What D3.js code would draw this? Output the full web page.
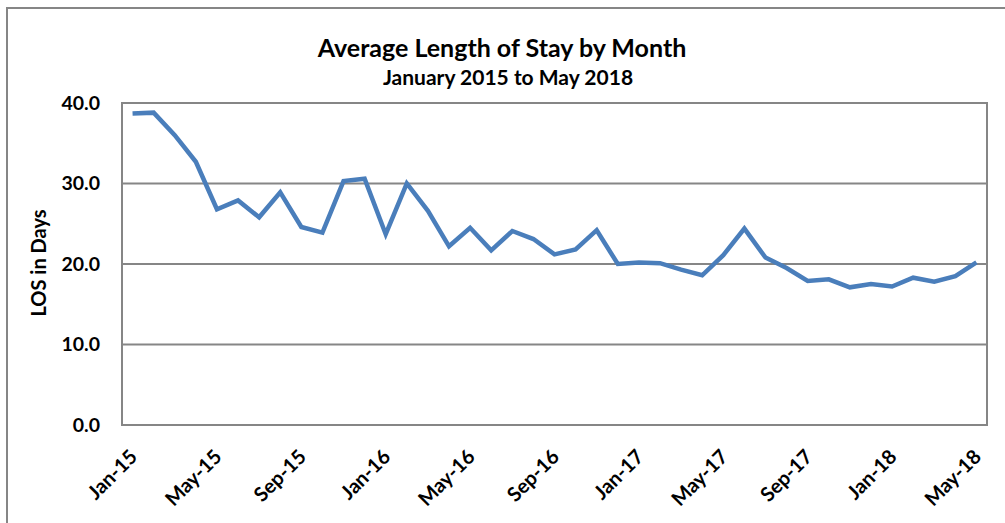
<!DOCTYPE html>
<html>
<head>
<meta charset="utf-8">
<script src="https://cdn.jsdelivr.net/npm/d3@7"></script>
<style>
  body { margin: 0; background: #fff; }
  text { font-family: Lato, "Open Sans", sans-serif; font-weight: bold; fill: #000; }
</style>
</head>
<body>
<div id="container"></div>
<script>
// months, Jan-15 .. May-18
const months = ["Jan-15","Feb-15","Mar-15","Apr-15","May-15","Jun-15","Jul-15","Aug-15","Sep-15","Oct-15","Nov-15","Dec-15",
  "Jan-16","Feb-16","Mar-16","Apr-16","May-16","Jun-16","Jul-16","Aug-16","Sep-16","Oct-16","Nov-16","Dec-16",
  "Jan-17","Feb-17","Mar-17","Apr-17","May-17","Jun-17","Jul-17","Aug-17","Sep-17","Oct-17","Nov-17","Dec-17",
  "Jan-18","Feb-18","Mar-18","Apr-18","May-18"];
const los = [38.7, 38.8, 36.0, 32.7, 26.8, 27.9, 25.8, 28.9, 24.6, 23.9, 30.3, 30.6,
  23.7, 30.0, 26.6, 22.2, 24.5, 21.7, 24.1, 23.1, 21.2, 21.8, 24.2, 20.0,
  20.2, 20.1, 19.3, 18.6, 21.1, 24.4, 20.8, 19.5, 17.9, 18.1, 17.1, 17.5,
  17.2, 18.3, 17.8, 18.5, 20.2];
const yTicks = [0, 10, 20, 30, 40];
const xTickLabels = ["Jan-15","May-15","Sep-15","Jan-16","May-16","Sep-16","Jan-17","May-17","Sep-17","Jan-18","May-18"];

const W = 1005, H = 523;
const margin = {top: 103, right: 18, bottom: 98, left: 122};
const width = W - margin.left - margin.right;
const height = H - margin.top - margin.bottom;

const svg = d3.select("#container").append("svg")
  .attr("width", W).attr("height", H);

// outer chart frame
svg.append("path")
  .attr("d", `M7,${H} V8 H${W}`)
  .attr("fill", "none").attr("stroke", "#868686").attr("stroke-width", 2);

const g = svg.append("g").attr("transform", `translate(${margin.left},${margin.top})`);

const x = d3.scaleBand().domain(months).range([0, width]);
const y = d3.scaleLinear().domain([0, 40]).range([height, 0]);

// gridlines
g.selectAll(".grid").data(yTicks.slice(1)).join("line")
  .attr("x1", 0).attr("x2", width)
  .attr("y1", d => y(d)).attr("y2", d => y(d))
  .attr("stroke", "#868686").attr("stroke-width", 2);

// plot box
g.append("rect").attr("width", width).attr("height", height)
  .attr("fill", "none").attr("stroke", "#868686").attr("stroke-width", 2);

// y axis labels
const yAxis = g.append("g").call(d3.axisLeft(y).tickValues(yTicks).tickFormat(d3.format(".1f")).tickSize(0).tickPadding(22));
yAxis.select(".domain").remove();
yAxis.selectAll("text").attr("font-size", 19.5).style("font-family", "Lato, sans-serif").style("font-weight", "bold");

// x axis labels
const xAxis = g.append("g").attr("transform", `translate(0,${height})`)
  .call(d3.axisBottom(x).tickValues(xTickLabels).tickSize(0));
xAxis.select(".domain").remove();
xAxis.selectAll("text")
  .attr("font-size", 20)
  .style("font-family", "Lato, sans-serif").style("font-weight", "bold")
  .attr("text-anchor", "end")
  .attr("y", 0).attr("dy", 0)
  .attr("transform", "translate(6,33) rotate(-45)");

// line
const line = d3.line()
  .x((d, i) => x(months[i]) + x.bandwidth() / 2)
  .y(d => y(d));
g.append("path").datum(los)
  .attr("fill", "none").attr("stroke", "#4a7ebb").attr("stroke-width", 4.5)
  .attr("stroke-linejoin", "miter").attr("d", line);

// titles
svg.append("text").attr("x", 502).attr("y", 57).attr("text-anchor", "middle")
  .attr("font-size", 25).text("Average Length of Stay by Month");
svg.append("text").attr("x", 508).attr("y", 85).attr("text-anchor", "middle")
  .attr("font-size", 21).text("January 2015 to May 2018");

// y axis title
svg.append("text").attr("transform", "translate(46,263) rotate(-90)")
  .attr("text-anchor", "middle").attr("font-size", 20).text("LOS in Days");
</script>
</body>
</html>
